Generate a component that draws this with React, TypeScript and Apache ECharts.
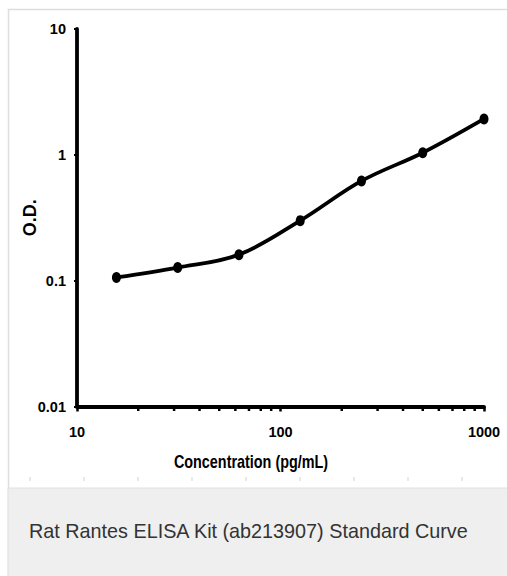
import React, { useEffect, useRef } from "react";
import * as echarts from "echarts";

const concentrations = [15.625, 31.25, 62.5, 125, 250, 500, 1000];
const odValues = [0.106, 0.127, 0.161, 0.3, 0.62, 1.04, 1.93];
const xTickLabels = ["10", "100", "1000"];
const yTickLabels = ["0.01", "0.1", "1", "10"];
const xMinorTicks = [20, 30, 40, 50, 60, 70, 80, 90, 200, 300, 400, 500, 600, 700, 800, 900];
const xTitle = "Concentration (pg/mL)";
const yTitle = "O.D.";
const caption = "Rat Rantes ELISA Kit (ab213907) Standard Curve";

const BOLD_FONT = "'Liberation Sans', Arial, sans-serif";

function pickLabel(list: string[], v: number) {
  const f = list.find((l) => Math.abs(Number(l) - v) / v < 1e-6);
  return f ?? "";
}

export default function App() {
  const ref = useRef<HTMLDivElement>(null);
  useEffect(() => {
    if (!ref.current) return;
    const chart = echarts.init(ref.current, undefined, { renderer: "svg" });
    const decoTicks = [30, 84, 138, 192, 246, 300, 354, 408, 462].map((x) => ({
      type: "line",
      shape: { x1: x, y1: 477, x2: x, y2: 481 },
      style: { stroke: "#e2e2e2", lineWidth: 1.5 },
      silent: true,
    }));
    chart.setOption({
      animation: false,
      backgroundColor: "#ffffff",
      grid: {
        left: 77,
        right: 23,
        top: 29,
        bottom: 169.5,
        containLabel: false,
        outerBoundsMode: "none",
      },
      xAxis: {
        type: "log",
        logBase: 10,
        min: 10,
        max: 1000,
        axisLine: { show: true, lineStyle: { color: "#000", width: 3.8 } },
        axisTick: { show: true, length: 5, lineStyle: { color: "#000", width: 2.5 } },
        axisLabel: {
          margin: 18,
          fontFamily: BOLD_FONT,
          fontWeight: "bold",
          fontSize: 14.5,
          color: "#000",
          formatter: (v: number) => pickLabel(xTickLabels, v),
        },
        splitLine: { show: false },
        minorTick: { show: false },
      },
      yAxis: {
        type: "log",
        logBase: 10,
        min: 0.01,
        max: 10,
        name: yTitle,
        nameLocation: "middle",
        nameGap: 38,
        nameRotate: 90,
        nameMoveOverlap: false,
        nameTextStyle: { fontFamily: BOLD_FONT, fontWeight: "bold", fontSize: 18, color: "#000" },
        axisLine: { show: true, lineStyle: { color: "#000", width: 3.8 } },
        axisTick: { show: true, length: 3, lineStyle: { color: "#000", width: 2 } },
        axisLabel: {
          margin: 11,
          fontFamily: BOLD_FONT,
          fontWeight: "bold",
          fontSize: 14.5,
          color: "#000",
          formatter: (v: number) => pickLabel(yTickLabels, v),
        },
        splitLine: { show: false },
      },
      series: [
        {
          type: "line",
          data: concentrations.map((c, i) => [c, odValues[i]]),
          smooth: 0.35,
          symbol: "circle",
          symbolSize: [9, 11],
          lineStyle: { color: "#000", width: 3.8 },
          itemStyle: { color: "#000" },
          z: 5,
        },
        {
          type: "custom",
          silent: true,
          clip: false,
          data: xMinorTicks.map((v) => [v, 0.01]),
          renderItem: (_p: any, api: any) => {
            const pt = api.coord([api.value(0), api.value(1)]);
            return {
              type: "line",
              shape: { x1: pt[0], y1: pt[1], x2: pt[0], y2: pt[1] + 4.5 },
              style: { stroke: "#000", lineWidth: 2.5 },
            };
          },
          z: 4,
        },
      ],
      graphic: [
        {
          type: "rect",
          silent: true,
          z: -10,
          shape: { x: 8.5, y: 9.5, width: 520, height: 600 },
          style: { fill: "#ffffff", stroke: "#dedede", lineWidth: 1.5 },
        },
        {
          type: "rect",
          silent: true,
          z: -9,
          shape: { x: 8, y: 488, width: 520, height: 100 },
          style: { fill: "#eeefee", stroke: "#e0e0e0", lineWidth: 1 },
        },
        ...decoTicks,
        {
          type: "text",
          silent: true,
          x: 251,
          y: 461,
          scaleX: 0.8,
          style: {
            text: xTitle,
            fontFamily: BOLD_FONT,
            fontWeight: "bold",
            fontSize: 18,
            fill: "#000",
            align: "center",
            verticalAlign: "middle",
          },
        },
        {
          type: "text",
          silent: true,
          x: 29,
          y: 531,
          style: {
            text: caption,
            fontFamily: BOLD_FONT,
            fontSize: 19.8,
            fill: "#333333",
            verticalAlign: "middle",
            align: "left",
          },
        },
      ],
    });
    return () => chart.dispose();
  }, []);
  return (
    <div
      ref={ref}
      style={{ position: "fixed", left: 0, top: 0, width: 507, height: 576 }}
    />
  );
}
